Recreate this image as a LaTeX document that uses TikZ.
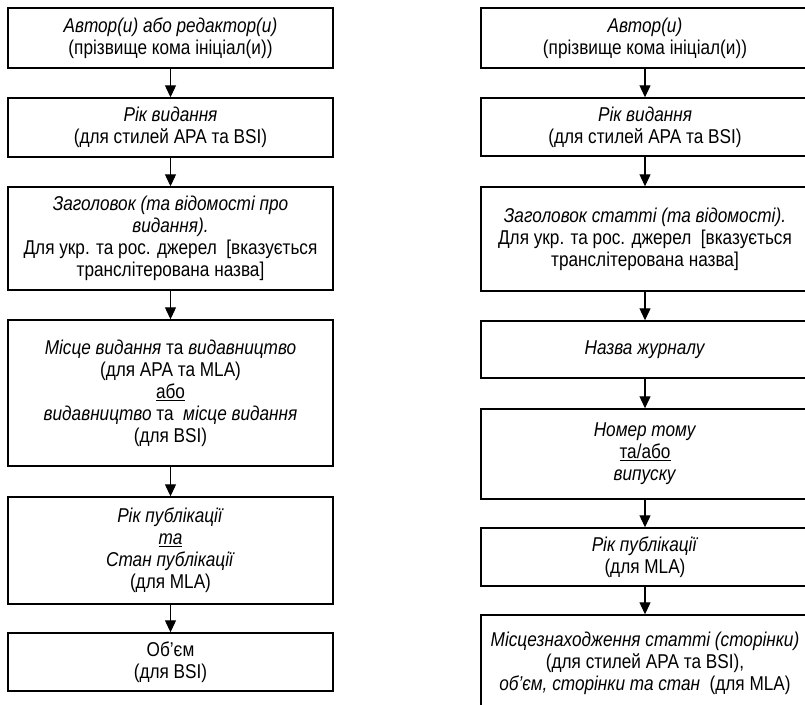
\documentclass[tikz,border=0pt]{standalone}
\usepackage{fontspec}
\setmainfont{Liberation Sans}[FakeStretch=0.86]
\usetikzlibrary{arrows.meta}
\tikzset{
  boxL/.style={draw, line width=1.4pt, minimum width=325pt, inner sep=0pt, align=center,
    font=\fontsize{20}{22}\selectfont},
  boxR/.style={boxL, minimum width=328pt},
  conn/.style={line width=1.1pt, -{Triangle[length=12pt,width=11pt]}}
}
\begin{document}
\begin{tikzpicture}[x=1pt,y=-1pt]
\useasboundingbox (0,0) rectangle (805,704);
\clip (0,0) rectangle (805,704);
% left column
\node[boxL, minimum height=60pt] (L1) at (170.5,38) {\textit{Автор(и) або редактор(и)}\\(прізвище кома ініціал(и))};
\node[boxL, minimum height=59pt] (L2) at (170.5,127.5) {\textit{Рік видання}\\(для стилей APA та BSI)};
\node[boxL, minimum height=103pt] (L3) at (170.5,238.5) {\textit{Заголовок (та відомості про}\\\textit{видання).}\\Для укр. та рос. джерел\ \ [вказується\\транслітерована назва]};
\node[boxL, minimum height=146pt] (L4) at (170.5,393) {\textit{Місце видання} та \textit{видавництво}\\(для APA та MLA)\\\underline{або}\\\textit{видавництво} та\ \ \textit{місце видання}\\(для BSI)};
\node[boxL, minimum height=107pt] (L5) at (170.5,550.5) {\textit{Рік публікації}\\\textit{\underline{та}}\\\textit{Стан публікації}\\(для MLA)};
\node[boxL, minimum height=58pt] (L6) at (170.5,662) {Об’єм\\(для BSI)};
% right column
\node[boxR, minimum height=60pt] (R1) at (645,38) {\textit{Автор(и)}\\(прізвище кома ініціал(и))};
\node[boxR, minimum height=58pt] (R2) at (645,127) {\textit{Рік видання}\\(для стилей APA та BSI)};
\node[boxR, minimum height=104pt] (R3) at (645,239) {\textit{Заголовок статті (та відомості).}\\Для укр. та рос. джерел\ \ [вказується\\транслітерована назва]};
\node[boxR, minimum height=57pt] (R4) at (645,349.5) {\textit{Назва журналу}};
\node[boxR, minimum height=90pt] (R5) at (645,454) {\textit{Номер тому}\\\underline{та/або}\\\textit{випуску}};
\node[boxR, minimum height=58pt] (R6) at (645,557) {\textit{Рік публікації}\\(для MLA)};
\node[boxR, minimum height=97pt] (R7) at (645,663.5) {\textit{Місцезнаходження статті (сторінки)}\\(для стилей APA та BSI),\\\textit{об’єм, сторінки та стан}\ \ (для MLA)};
% connectors
\foreach \a/\b in {L1/L2,L2/L3,L3/L4,L4/L5,L5/L6,R1/R2,R2/R3,R3/R4,R4/R5,R5/R6,R6/R7}
  \draw[conn] (\a) -- (\b);
\end{tikzpicture}
\end{document}
